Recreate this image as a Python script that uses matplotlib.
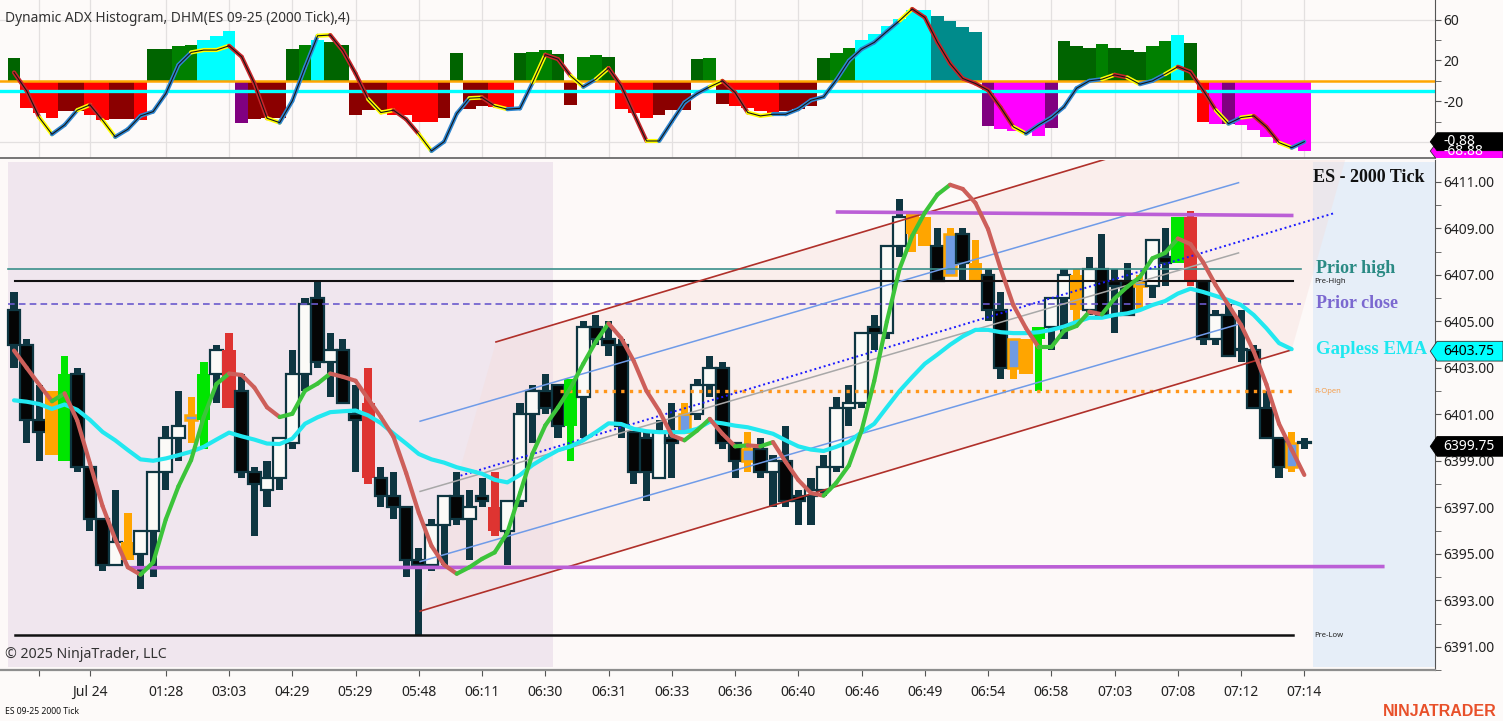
import matplotlib
matplotlib.use("Agg")
import matplotlib.pyplot as plt
from matplotlib.patches import Rectangle, Polygon
from matplotlib.collections import LineCollection
import numpy as np

plt.rcParams['font.family'] = ['Noto Sans', 'DejaVu Sans']

# ---------------- DATA ----------------
opens = [6405.5, 6404.0, 6400.75, 6402.0, 6399.0, 6402.75, 6398.75, 6396.5, 6394.5, 6395.5,
         6395.0, 6396.0, 6398.5, 6400.0, 6400.75, 6400.75, 6402.75, 6403.75, 6402.0, 6398.5,
         6397.75, 6398.25, 6399.75, 6402.75, 6406.0, 6403.25, 6403.75, 6401.0, 6401.5, 6398.25,
         6397.5, 6397.0, 6394.75, 6394.5, 6396.25, 6397.5, 6396.5, 6397.5, 6397.0, 6396.0,
         6397.25, 6401.0, 6402.0, 6402.25, 6400.5, 6401.75, 6404.75, 6404.25, 6404.0, 6400.25,
         6400.0, 6398.25, 6400.0, 6401.0, 6401.0, 6402.25, 6403.0, 6399.75, 6399.5, 6399.5,
         6398.5, 6399.0, 6397.5, 6397.5, 6397.75, 6398.75, 6401.25, 6401.5, 6404.75, 6404.5,
         6408.25, 6409.75, 6409.5, 6408.25, 6408.75, 6408.75, 6407.5, 6407.0, 6405.5, 6404.25,
         6404.25, 6404.25, 6404.75, 6406.0, 6407.0, 6405.5, 6407.25, 6406.75, 6406.75, 6406.5,
         6406.5, 6407.75, 6407.5, 6409.5, 6406.75, 6404.25, 6405.25, 6403.75, 6403.75, 6401.25,
         6400.0, 6399.75, 6399.75]
highs = [6406.25, 6404.25, 6402.25, 6402.0, 6403.5, 6403.0, 6398.75, 6396.5, 6397.75, 6396.75,
         6396.0, 6398.5, 6400.5, 6402.0, 6401.75, 6403.25, 6404.0, 6404.5, 6402.75, 6398.75,
         6399.0, 6400.0, 6403.75, 6406.0, 6406.75, 6404.5, 6404.25, 6402.25, 6403.0, 6398.75,
         6398.5, 6397.0, 6395.25, 6396.5, 6397.5, 6398.5, 6397.75, 6398.25, 6398.5, 6397.25,
         6401.5, 6402.25, 6402.75, 6402.25, 6402.5, 6405.0, 6405.25, 6405.0, 6404.25, 6400.25,
         6400.25, 6400.75, 6401.5, 6401.5, 6402.5, 6403.5, 6403.25, 6399.75, 6400.25, 6400.0,
         6399.25, 6400.5, 6397.75, 6398.25, 6399.25, 6401.75, 6402.25, 6404.5, 6405.25, 6408.25,
         6410.25, 6409.75, 6409.5, 6409.0, 6409.0, 6409.0, 6408.5, 6407.25, 6406.25, 6404.25,
         6404.25, 6404.75, 6406.0, 6407.25, 6407.25, 6407.75, 6408.75, 6407.25, 6407.5, 6407.0,
         6408.5, 6409.0, 6409.5, 6409.75, 6406.75, 6405.5, 6405.75, 6405.5, 6404.0, 6402.0,
         6400.0, 6400.25, 6400.0]
lows = [6403.0, 6399.75, 6399.0, 6399.25, 6399.0, 6398.5, 6396.0, 6394.25, 6394.5, 6394.75,
        6393.5, 6394.0, 6397.75, 6399.0, 6399.75, 6399.5, 6401.5, 6401.25, 6398.25, 6395.75,
        6397.0, 6397.75, 6399.5, 6402.0, 6403.0, 6401.75, 6401.5, 6398.5, 6398.0, 6397.0,
        6396.5, 6394.0, 6391.5, 6394.25, 6394.5, 6396.25, 6394.75, 6397.0, 6395.75, 6394.5,
        6397.0, 6399.75, 6401.0, 6400.0, 6399.0, 6400.0, 6404.0, 6403.5, 6400.0, 6398.0,
        6397.25, 6398.25, 6398.25, 6400.25, 6400.75, 6401.75, 6399.5, 6398.25, 6398.5, 6398.25,
        6397.0, 6397.0, 6396.25, 6396.25, 6397.5, 6398.5, 6400.5, 6401.25, 6403.75, 6404.25,
        6407.75, 6408.0, 6408.25, 6406.75, 6407.0, 6406.75, 6406.75, 6405.0, 6402.5, 6402.5,
        6402.75, 6402.0, 6403.75, 6404.25, 6405.0, 6405.25, 6405.25, 6404.5, 6405.25, 6405.5,
        6406.0, 6406.5, 6407.5, 6406.5, 6404.0, 6404.0, 6403.5, 6403.25, 6401.25, 6400.0,
        6398.25, 6398.5, 6399.5]
closes = [6404.0, 6400.75, 6400.25, 6399.25, 6402.75, 6398.75, 6396.5, 6394.5, 6395.5, 6394.75,
          6396.0, 6398.5, 6400.0, 6400.5, 6400.75, 6402.75, 6403.75, 6401.25, 6398.5, 6398.0,
          6398.25, 6400.0, 6402.75, 6405.75, 6403.25, 6403.75, 6401.5, 6400.75, 6398.25, 6397.5,
          6397.0, 6394.75, 6394.5, 6396.25, 6397.5, 6396.5, 6397.0, 6397.25, 6396.0, 6397.25,
          6401.0, 6402.0, 6401.25, 6400.5, 6402.5, 6404.75, 6404.25, 6404.0, 6400.5, 6398.5,
          6398.5, 6400.25, 6399.75, 6400.25, 6402.25, 6403.0, 6399.75, 6399.0, 6399.0, 6398.5,
          6399.0, 6397.25, 6397.25, 6397.75, 6398.75, 6401.25, 6401.5, 6404.5, 6404.5, 6408.25,
          6409.5, 6408.75, 6408.25, 6406.75, 6407.0, 6407.5, 6406.75, 6405.5, 6403.0, 6403.0,
          6402.75, 6404.75, 6406.0, 6407.0, 6405.5, 6407.25, 6405.25, 6406.5, 6405.25, 6406.5,
          6408.5, 6407.5, 6409.5, 6406.75, 6404.25, 6405.25, 6403.5, 6403.75, 6401.25, 6400.0,
          6398.75, 6398.75, 6399.75]
# bar paint: n normal, g green, o orange, r red, b blue body / orange outline
paint = ("nnnognnnno" "nnnnbgnrnn" "nnnnnnnnrn" "nnnnnnnnrn" "nnnngnnnnn"
         "nnnbnnnnbn" "nnnnnnnnnn" "noonbnonnb" "ognnonnnnb" "nngrnnnnnn" "nbn")

gapless_ema = [6401.6, 6401.54, 6401.44, 6401.23, 6401.42, 6401.19, 6400.76, 6400.24, 6399.88, 6399.46,
               6399.06, 6399.0, 6399.1, 6399.24, 6399.39, 6399.6, 6399.91, 6400.21, 6400.05, 6399.91,
               6399.74, 6399.72, 6399.95, 6400.59, 6400.87, 6401.09, 6401.13, 6401.16, 6400.95, 6400.62,
               6400.17, 6399.74, 6399.29, 6399.06, 6398.92, 6398.72, 6398.58, 6398.44, 6398.18, 6398.07,
               6398.39, 6398.82, 6399.15, 6399.45, 6399.62, 6399.88, 6400.23, 6400.61, 6400.58, 6400.37,
               6400.27, 6400.23, 6400.23, 6400.23, 6400.37, 6400.68, 6400.61, 6400.51, 6400.44, 6400.3,
               6400.16, 6399.88, 6399.62, 6399.48, 6399.42, 6399.6, 6399.81, 6400.23, 6400.59, 6401.3,
               6402.0, 6402.6, 6403.17, 6403.57, 6403.99, 6404.35, 6404.63, 6404.63, 6404.53, 6404.49,
               6404.49, 6404.53, 6404.63, 6404.77, 6404.97, 6405.15, 6405.15, 6405.27, 6405.34, 6405.48,
               6405.7, 6405.87, 6406.19, 6406.4, 6406.26, 6406.09, 6405.91, 6405.7, 6405.27, 6404.7,
               6404.06, 6403.8]
fast_ma = [6403.74, 6403.0, 6402.27, 6401.56, 6401.9, 6400.73, 6398.89, 6397.05, 6395.63, 6394.42,
           6394.1, 6394.63, 6396.48, 6397.9, 6399.03, 6400.88, 6402.3, 6402.75, 6402.69, 6402.15,
           6401.3, 6400.88, 6401.02, 6402.01, 6402.32, 6402.75, 6402.61, 6402.44, 6401.66, 6400.88,
           6400.03, 6398.47, 6396.76, 6395.34, 6394.52, 6394.14, 6394.42, 6394.78, 6395.06, 6395.91,
           6397.61, 6399.32, 6400.52, 6401.29, 6402.14, 6403.17, 6404.13, 6404.91, 6404.27, 6403.28,
           6402.0, 6401.15, 6400.09, 6399.88, 6400.3, 6400.8, 6400.16, 6399.62, 6399.66, 6399.62,
           6399.8, 6398.95, 6398.17, 6397.61, 6397.5, 6398.05, 6398.8, 6400.3, 6402.43, 6404.99,
           6407.25, 6408.67, 6409.67, 6410.45, 6410.87, 6410.69, 6410.09, 6408.96, 6407.25, 6405.69,
           6404.7, 6403.88, 6403.88, 6404.59, 6404.8, 6405.41, 6405.3, 6405.98, 6406.48, 6406.9,
           6407.71, 6407.94, 6408.56, 6408.32, 6407.54, 6406.55, 6405.7, 6404.84, 6403.71, 6402.29,
           6400.59, 6399.48, 6398.39]

hist = [22, -27, -32, -36, -30, -30, -33.5, -38.7, -37.7, -37,
        -38.7, 31.5, 30.8, 33.7, 35.4, 40, 44, 48.8, -41, -37.7,
        -36.7, -36.7, 31.5, 35.4, 40.4, 37.7, 35.4, -33.5, -28.5, -28.5,
        -33.5, -33.5, -40, -40, -36, 27.5, -27.8, -24.6, -26, -27.2,
        27.2, 28.2, 29.8, 26.5, -23.6, 23.6, 25.2, 23.6, -27.2, -31.1,
        -36, -34, -28.8, -28.8, 21.3, 22.6, -22.3, -24.9, -27, -29.5,
        -31.8, -29.5, -28, -25, 22, 27.5, 32, 40, 46, 54,
        60.6, 69.5, 69.5, 64, 58.7, 52.8, 48.2, -44.6, -47, -49,
        -49, -53.7, -45.9, 38.7, 33.7, 32.4, 35.7, 31.8, 30.2, 28.5,
        34.1, 39.3, 44.5, 37, -40, -42, -42, -43.3, -48.5, -55,
        -60.6, -64, -68.88]
hist_state = ("DRRRKKRRKK" "RDDGGCCCPK" "KKDGCDDKKK" "RRRRKDKKRR" "DGGDKGGDRR"
              "RKKKDGKRRR" "RKKKDGGCCC" "CCCTTTTPMM" "MMPDDDGDDD" "GGCDRMPMMM" "MMM")
adx_line = [8.2, -9.8, -36, -52.4, -43.3, -28.8, -23.6, -38.7, -55, -47.5,
            -34.4, -30.2, -12.5, 15.7, 27.9, 30.2, 30.2, 34.4, 23.6, -2.6,
            -36.7, -41, -19.7, 13.1, 44.2, 44.9, 29.5, 7.2, -18, -31.1,
            -28.8, -37.7, -52.4, -68.8, -59.7, -32.1, -17, -16.4, -24.6, -27.8,
            -27, -1.6, 25.6, 21.3, 4.9, -5.9, 1.6, 12.5, -4.9, -32.1,
            -59, -59, -40, -21.3, -12.5, -5.9, 0, -11.5, -31.1, -34.4,
            -32.8, -32.8, -27.8, -19, -15.7, 0.7, 19.7, 31.1, 37.7, 48.5,
            59, 70.5, 62.2, 37.7, 17, 2.3, -2.6, -9.2, -26.2, -45.2,
            -51.8, -43.3, -36, -25.6, -7.2, 0, 1.6, 5.9, 3.3, -3.3,
            0, 6.6, 13.8, 8.8, -9.2, -28.8, -42, -36, -34.4, -45.2,
            -60.6, -65.6, -59.7]
adx_seg_state = ("rrybbyrybb" "bbbbyyyrrr" "ybbbyrrryy" "rrybbbyryb" "byrrybyrrr"
                 "ybbbbyrryy" "bbbbbbbbbb" "yrrrrrrrry" "bbbbbbyryb" "byrrrybyrr" "yb")
adx_tag_text = "-0.88"
adx_zero_level = 0
adx_cyan_level = -10

tick_bars = [2, 6, 12, 17, 22, 27, 32, 37, 42, 47, 52, 57, 62, 67, 72, 77, 82, 87, 92, 97, 102]
tick_labels = ['', 'Jul 24', '01:28', '03:03', '04:29', '05:29', '05:48', '06:11', '06:30',
               '06:31', '06:33', '06:36', '06:40', '06:46', '06:49', '06:54', '06:58',
               '07:03', '07:08', '07:12', '07:14']

prior_high, pre_high, prior_close, r_open, pre_low = 6407.25, 6406.75, 6405.75, 6402.0, 6391.5
# drawing objects: (bar_start, price_start, bar_end, price_end)
upper_red = (38.1, 6404.11, 107.0, 6415.35)
lower_red = (32.1, 6392.53, 101.0, 6403.77)
upper_blue = (32.1, 6400.70, 96.8, 6410.96)
lower_blue = (32.1, 6394.66, 96.8, 6404.87)
mid_gray = (32.1, 6397.68, 96.8, 6407.94)
dotted_blue = (35.3, 6398.36, 104.3, 6409.64)
purple_top = (65.1, 6409.70, 101.0, 6409.55)
purple_bot = (9.2, 6394.40, 108.2, 6394.45)
session_split = 42.6

# ---------------- FIGURE ----------------
W, H = 1503, 721
fig = plt.figure(figsize=(W / 100, H / 100), dpi=100)
fig.patch.set_facecolor('#fdfaf9')
XL = (-1.107, 112.33)
n = len(closes)
xs = np.arange(n)

ax_top = fig.add_axes([0, 1 - 158 / H, 1435 / W, 158 / H])
ax = fig.add_axes([0, 1 - 670 / H, 1435 / W, 510 / H])

# ---------- top panel ----------
TOP_YL = (-75.7, 79.3)
ax_top.set_xlim(XL)
ax_top.set_ylim(TOP_YL)
ax_top.set_facecolor('#fdfaf9')
for xt in tick_bars:
    ax_top.axvline(xt, color='#e3e0e0', lw=0.9, zorder=0)
for yv in (60, -60):
    ax_top.axhline(yv, color='#e3e0e0', lw=0.9, zorder=0)
HCOL = {'D': '#006400', 'G': '#008000', 'C': '#00ffff', 'T': '#008b8b',
        'R': '#ff0000', 'K': '#8b0000', 'P': '#800080', 'M': '#ff00ff'}
ax_top.bar(xs, hist, width=1.0, color=[HCOL[k] for k in hist_state], linewidth=0, zorder=1)
ax_top.axhline(adx_zero_level, color='#ffa500', lw=1.8, zorder=2)
ax_top.axhline(adx_cyan_level, color='#00ffff', lw=2.4, zorder=2)
LCOL = {'r': '#c8262b', 'y': '#ffff00', 'b': '#2f86d0'}
segs = [[(i, adx_line[i]), (i + 1, adx_line[i + 1])] for i in range(n - 1)]
ax_top.add_collection(LineCollection(segs, colors=[LCOL[k] for k in adx_seg_state],
                                     linewidths=3.0, zorder=3, capstyle='round'))
ax_top.plot(xs, adx_line, color='#151515', lw=0.8, zorder=4)
for s in ('left', 'top'):
    ax_top.spines[s].set_visible(False)
ax_top.spines['bottom'].set_color('#6b6b6b')
ax_top.spines['bottom'].set_linewidth(1.3)
ax_top.spines['right'].set_color('#555555')
ax_top.yaxis.tick_right()
ax_top.set_yticks([60, 20, -20])
ax_top.set_yticklabels(['60', '20', '-20'])
ax_top.set_yticks([40, 0, -40, -60], minor=True)
ax_top.tick_params(axis='y', which='both', direction='out', length=4, color='#555555',
                   labelsize=10, labelcolor='#222222', pad=2)
ax_top.tick_params(axis='x', length=0, labelbottom=False)

# ---------- main panel ----------
YL = (6390.234, 6411.936)
ax.set_xlim(XL)
ax.set_ylim(YL)
ax.set_facecolor('#fdf9f8')
ax.axvspan(XL[0] + 0.64, session_split, ymin=0.006, ymax=0.996, color='#f0e6ee', lw=0, zorder=0)
ax.axvspan(n - 0.3, XL[1], ymin=0.006, ymax=0.996, color='#e6eef8', lw=0, zorder=0)

# channel fill (parallelogram between red channel lines)
dx = lower_red[2] - lower_red[0]
dy = lower_red[3] - lower_red[1]
poly = [(lower_red[0], lower_red[1]), (upper_red[0], upper_red[1]),
        (upper_red[0] + dx, upper_red[1] + dy), (lower_red[2], lower_red[3])]
ax.add_patch(Polygon(poly, closed=True, fc='#f6dcd8', ec='none', alpha=0.35, zorder=0.5))

# candles
WICK = '#0e3641'
PCOL = {'g': '#00e600', 'o': '#ffa500', 'r': '#de3431'}
for i in range(n):
    o, h, l, c, p = opens[i], highs[i], lows[i], closes[i], paint[i]
    top, bot = max(o, c), min(o, c)
    hgt = max(top - bot, 0.07)
    if p == 'n':
        ax.add_patch(Rectangle((i - 0.28, l), 0.56, h - l, fc=WICK, ec='none', zorder=2))
        fc = '#fbfaf7' if c >= o else '#050505'
        ax.add_patch(Rectangle((i - 0.5, bot), 1.0, hgt, fc=fc, ec=WICK, lw=1.6, zorder=2.1))
    elif p == 'b':
        ax.add_patch(Rectangle((i - 0.28, l), 0.56, h - l, fc='#ffa500', ec='none', zorder=2))
        ax.add_patch(Rectangle((i - 0.46, bot), 0.92, max(hgt, 0.2), fc='#6f9be3',
                               ec='#ffa500', lw=1.8, zorder=2.1))
    else:
        col = PCOL[p]
        ax.add_patch(Rectangle((i - 0.3, l), 0.6, h - l, fc=col, ec='none', zorder=2))
        ax.add_patch(Rectangle((i - 0.52, bot), 1.04, hgt, fc=col, ec='none', zorder=2.1))


def seg(line, **kw):
    ax.plot([line[0], line[2]], [line[1], line[3]], **kw)


# levels
ax.plot([XL[0] + 0.6, 101.7], [prior_high] * 2, color='#3a8f8a', lw=1.2, zorder=3)
ax.plot([0.08, 101.1], [pre_high] * 2, color='#111111', lw=1.5, zorder=3)
ax.plot([XL[0] + 0.6, 101.7], [prior_close] * 2, color='#6a5acd', lw=1.2,
        ls=(0, (4, 2.5)), zorder=3)
ax.plot([43.2, 101.3], [r_open] * 2, color='#ff961a', lw=2.4, ls=(0, (1, 1.6)), zorder=3)
ax.plot([0.08, 101.1], [pre_low] * 2, color='#111111', lw=1.8, zorder=3)
# channel & drawing lines
seg(upper_red, color='#b0302a', lw=1.2, zorder=3)
seg(lower_red, color='#b0302a', lw=1.2, zorder=3)
seg(upper_blue, color='#6f9be8', lw=1.1, zorder=3)
seg(lower_blue, color='#6f9be8', lw=1.1, zorder=3)
seg(mid_gray, color='#a8a8a8', lw=1.1, zorder=3)
seg(dotted_blue, color='#1a1aff', lw=1.4, ls=(0, (1, 1.5)), zorder=3)
seg(purple_top, color='#bb5fd6', lw=2.6, zorder=3)
seg(purple_bot, color='#bb5fd6', lw=2.6, zorder=3)

# moving averages
ax.plot(np.arange(len(gapless_ema)), gapless_ema, color='#22e8f0', lw=3.0, zorder=4,
        solid_capstyle='round', solid_joinstyle='round')
fsegs = [[(i, fast_ma[i]), (i + 1, fast_ma[i + 1])] for i in range(n - 1)]
fcols = ['#3cc43a' if fast_ma[i + 1] >= fast_ma[i] else '#cd5f5a' for i in range(n - 1)]
ax.add_collection(LineCollection(fsegs, colors=fcols, linewidths=3.0, zorder=4.5,
                                 capstyle='round', joinstyle='round'))

# labels on chart
LX = 102.9
SERIF = ['Liberation Serif', 'DejaVu Serif']
ax.text(LX, prior_high, 'Prior high', color='#2a8a84', fontsize=13, fontweight='bold',
        family=SERIF, va='center', ha='left', zorder=6)
ax.text(LX, prior_close, 'Prior close', color='#7b68d0', fontsize=13, fontweight='bold',
        family=SERIF, va='center', ha='left', zorder=6)
ax.text(LX, gapless_ema[-1], 'Gapless EMA', color='#1ee8f0', fontsize=13.5, fontweight='bold',
        family=SERIF, va='center', ha='left', zorder=6, clip_on=False)
ax.text(111.5, 6411.17, 'ES - 2000 Tick', color='#111111', fontsize=13, fontweight='bold',
        family=SERIF, va='center', ha='right', zorder=6)
ax.text(102.75, pre_high - 0.05, 'Pre-High', color='#222222', fontsize=5.5, va='center', zorder=6)
ax.text(102.75, r_open, 'R-Open', color='#f5a050', fontsize=5.5, va='center', zorder=6)
ax.text(102.75, pre_low, 'Pre-Low', color='#222222', fontsize=5.5, va='center', zorder=6)

# axes styling
for s in ('left', 'top'):
    ax.spines[s].set_visible(False)
ax.spines['bottom'].set_color('#8e8e8e')
ax.spines['bottom'].set_linewidth(1.6)
ax.spines['right'].set_color('#555555')
ax.yaxis.tick_right()
major = np.arange(6391, 6412, 2)
ax.set_yticks(major)
ax.set_yticklabels([f'{v:.2f}' for v in major])
ax.set_yticks(np.arange(6390, 6412, 1), minor=True)
ax.tick_params(axis='y', which='both', direction='out', length=4, color='#555555',
               labelsize=10, labelcolor='#222222', pad=2)
ax.set_xticks(tick_bars)
ax.set_xticklabels(tick_labels)
ax.tick_params(axis='x', direction='out', length=4, color='#555555', labelsize=10,
               labelcolor='#222222', pad=7)

# ---------- price tags ----------
tagT = fig.add_axes([1428 / W, 1 - 158 / H, 75 / W, 158 / H], zorder=10)
tagT.set_xlim(0, 1)
tagT.set_ylim(TOP_YL)
tagT.axis('off')
tagM = fig.add_axes([1428 / W, 1 - 670 / H, 75 / W, 510 / H], zorder=10)
tagM.set_xlim(0, 1)
tagM.set_ylim(YL)
tagM.axis('off')


def tag(axx, v, hh, text, fc, tc):
    pts = [(0.03, v), (0.12, v + hh), (1.0, v + hh), (1.0, v - hh), (0.12, v - hh)]
    axx.add_patch(Polygon(pts, closed=True, fc=fc, ec='#333333' if fc != '#000000' else fc,
                          lw=0.6))
    t = axx.text(0.2, v, text, color=tc, fontsize=10, va='center', ha='left')
    t.set_clip_on(True)


tag(tagT, hist[-1], 8.8, f'{hist[-1]:.2f}', '#ff00ff', '#ffffff')
tag(tagT, adx_line[-1], 8.8, adx_tag_text, '#000000', '#ffffff')
q = lambda v: round(v * 4) / 4
tag(tagM, gapless_ema[-1], 0.42, f'{q(gapless_ema[-1]):.2f}', '#00ffff', '#000000')
tag(tagM, closes[-1], 0.42, f'{closes[-1]:.2f}', '#000000', '#ffffff')

# ---------- figure texts ----------
fig.text(5 / W, 1 - 18 / H, 'Dynamic ADX Histogram, DHM(ES 09-25 (2000 Tick),4)',
         fontsize=9.9, color='#333333', va='center', ha='left')
fig.text(5 / W, 1 - 654 / H, '\u00a9 2025 NinjaTrader, LLC', fontsize=10.2, color='#333333',
         va='center', ha='left', zorder=20)
fig.text(5 / W, 1 - 712 / H, 'ES 09-25 2000 Tick', fontsize=6.2, color='#111111',
         va='center', ha='left')
fig.text(1497 / W, 1 - 712 / H, 'NINJATRADER', fontsize=11.5, color='#e8502a',
         fontweight='bold', family=['Liberation Sans', 'DejaVu Sans'], va='center', ha='right')

fig.savefig('out.png', dpi=100, facecolor=fig.get_facecolor())
